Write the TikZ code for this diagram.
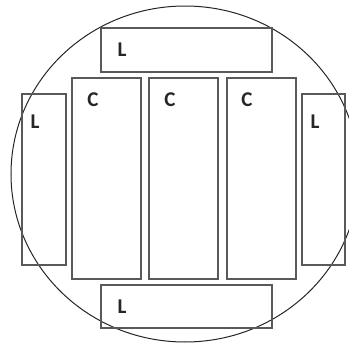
\documentclass[tikz,border=0pt]{standalone}
\usepackage{fontspec}
\setmainfont{Carlito}
\tikzset{
  box/.style={draw=black!65, line width=1.3pt},
  tag/.style={font=\fontsize{21}{24}\selectfont, text=black!85, inner sep=0pt},
}
\begin{document}
\begin{tikzpicture}[x=1pt,y=-1pt]
      \useasboundingbox (0,0) rectangle (349,343);
      % outer circle
      \draw [black!85, line width=1pt] (185,174) ellipse (174 and 168);
      % L boxes
      \draw [box] (101,28) rectangle (272,72);
      \draw [box] (101,285) rectangle (272,328);
      \draw [box] (22,94) rectangle (66,265);
      \draw [box] (302,94) rectangle (345,265);
      % C boxes
      \draw [box] (72,78) rectangle (141,279);
      \draw [box] (149,78) rectangle (218,279);
      \draw [box] (227,78) rectangle (296,279);
      % labels
      \node [tag] (ltop) at (122,50) {\bfseries L};
      \node [tag] (lbot) at (122,307) {\bfseries L};
      \node [tag] (lleft) at (35,122) {\bfseries L};
      \node [tag] (lright) at (315,122) {\bfseries L};
      \node [tag] (cone) at (93,100) {\bfseries C};
      \node [tag] (ctwo) at (170,100) {\bfseries C};
      \node [tag] (cthree) at (247,100) {\bfseries C};
    \end{tikzpicture}
\end{document}
